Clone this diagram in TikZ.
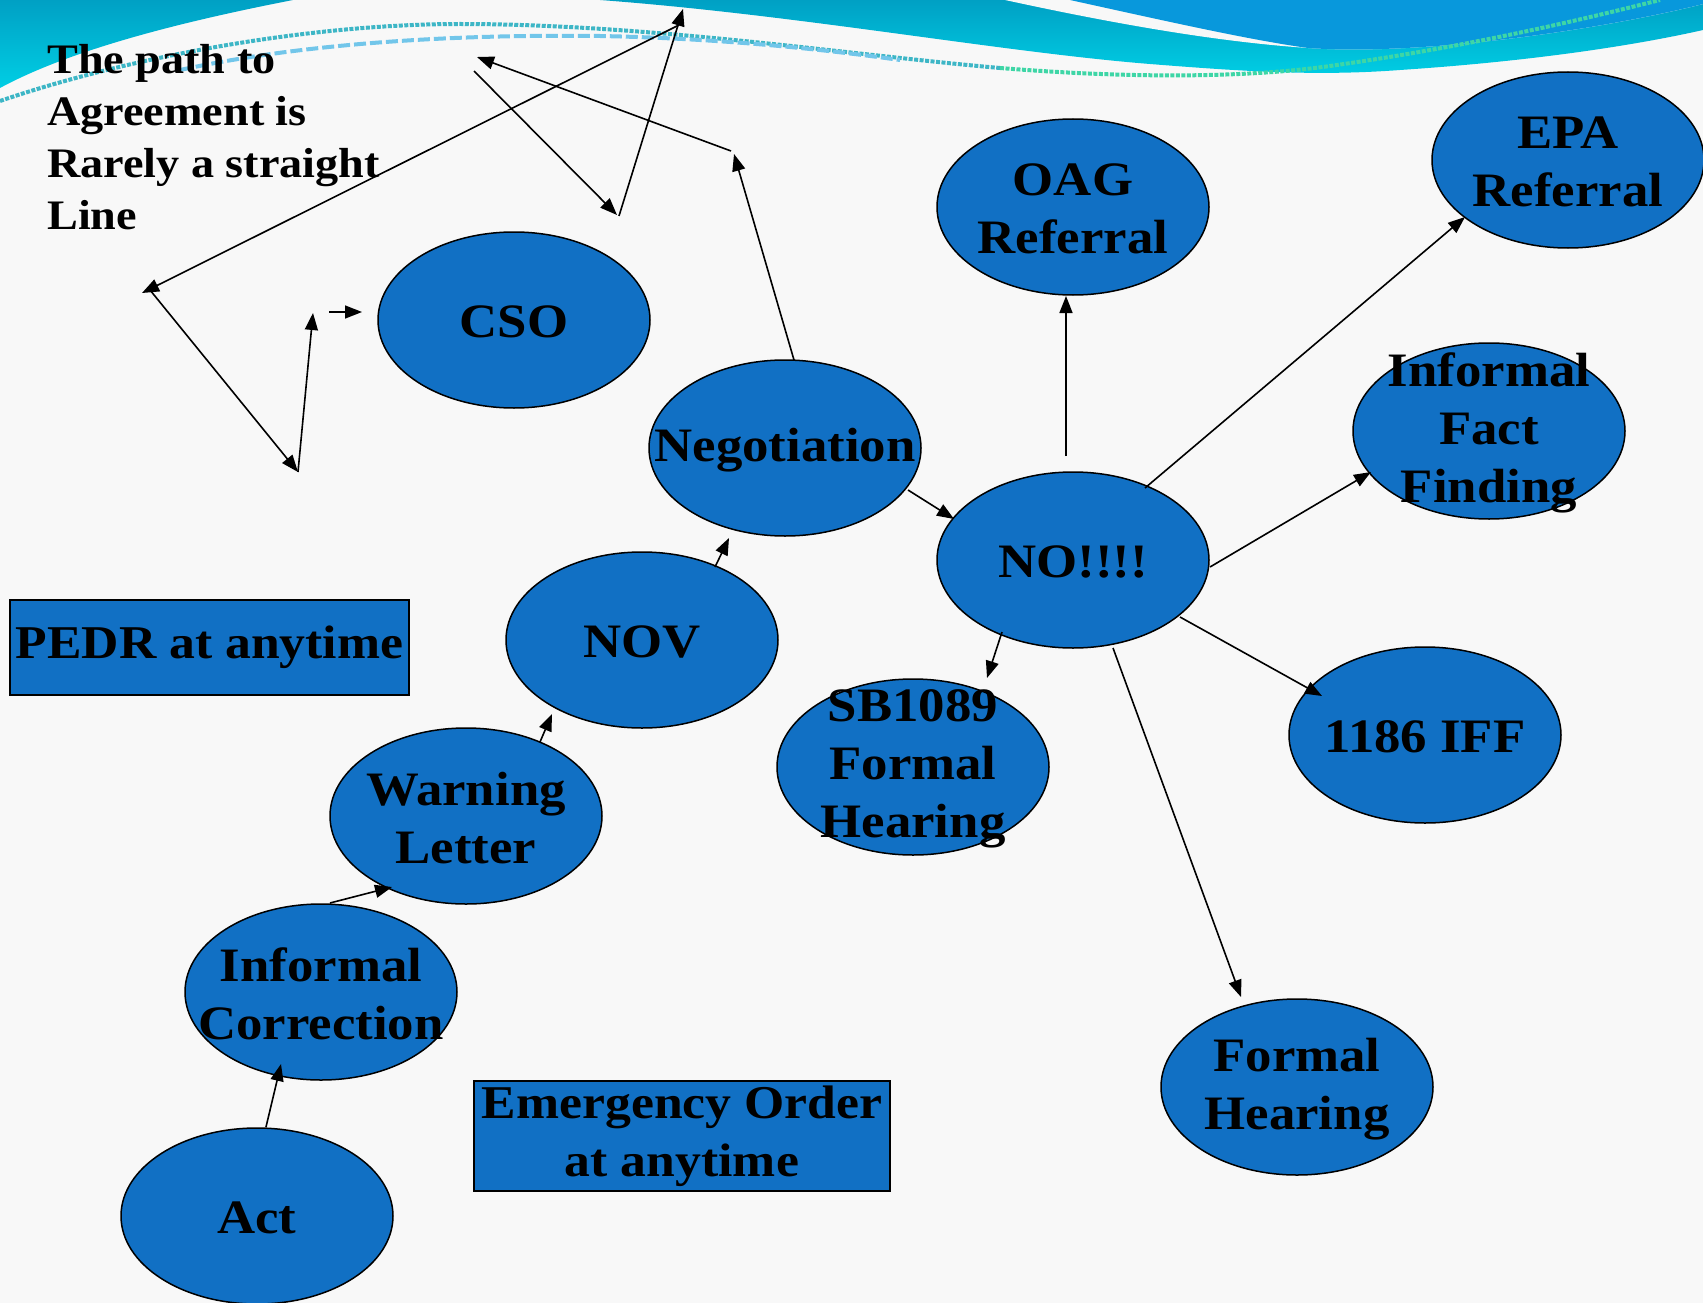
\documentclass[tikz,border=0pt]{standalone}
\usepackage{fontspec}
\setmainfont{Liberation Serif}[FakeStretch=1.1]
\usetikzlibrary{arrows.meta,shapes.geometric}
\definecolor{nodeblue}{HTML}{1170C4}
\definecolor{bgc}{HTML}{F8F8F8}
\definecolor{tealtop}{HTML}{00A0C4}
\definecolor{cyanbot}{HTML}{00CEE4}
\definecolor{ribbonb}{HTML}{0898DC}
\definecolor{wavteal}{HTML}{3DB6C6}
\definecolor{wavblue}{HTML}{72C6EA}
\definecolor{wavgreen}{HTML}{3ED6A6}
\begin{document}
\begin{tikzpicture}[x=1pt,y=-1pt,
  blob/.style={ellipse, draw=black, line width=1.5pt, fill=nodeblue, minimum width=272pt, minimum height=176pt, inner sep=0pt},
  lbl/.style={font=\fontsize{48}{58}\selectfont\bfseries, align=center, inner sep=0pt, yshift=-2pt},
  boxnode/.style={draw=black, line width=2pt, fill=nodeblue, inner sep=0pt, font=\fontsize{47}{58}\selectfont\bfseries, align=center},
  conn/.style={line width=1.6pt, -{Triangle[length=17pt,width=13pt]}},
  wave/.style={line width=4pt}
]
% background
\fill[bgc] (0,0) rectangle (1703,1303);
\useasboundingbox (0,0) rectangle (1703,1303);

% top-left corner ribbon
\shade[top color=tealtop, bottom color=cyanbot] (0,0) -- (293,0) .. controls (180,22) and (70,50) .. (0,88) -- cycle;
% ribbon A
\shade[top color=tealtop, bottom color=cyanbot] (600,0) .. controls (800,15) and (1000,52) .. (1150,64) .. controls (1250,72) and (1320,76) .. (1400,70) .. controls (1550,60) and (1650,42) .. (1703,30) -- (1703,0) -- cycle;
% white wedge
\fill[bgc] (1005,0) .. controls (1120,25) and (1220,42) .. (1308,48) .. controls (1420,56) and (1600,30) .. (1703,4) -- (1703,0) -- cycle;
% ribbon B
\fill[ribbonb] (1070,0) .. controls (1170,22) and (1250,40) .. (1308,48) .. controls (1420,56) and (1600,30) .. (1703,4) -- (1703,0) -- cycle;
% wave lines
\draw[wave, wavteal, dash pattern=on 4pt off 1.5pt] (0,101) .. controls (120,60) and (300,24) .. (460,24) .. controls (650,24) and (850,55) .. (1000,68);
\draw[wave, wavgreen, dash pattern=on 4pt off 1.5pt] (1000,68) .. controls (1150,80) and (1260,76) .. (1330,66) .. controls (1480,45) and (1600,15) .. (1660,0);
\draw[wave, wavblue, dash pattern=on 12pt off 4pt] (180,70) .. controls (300,44) and (450,34) .. (600,36) .. controls (700,38) and (800,46) .. (900,60);

% title
\node[anchor=north west, align=left, inner sep=0pt, font=\fontsize{42}{52}\selectfont\bfseries] (title) at (47,44) {The path to\\Agreement is\\Rarely a straight\\Line};

% ellipses
\node[blob] (cso) at (514,320) {};
\node[blob] (neg) at (785,448) {};
\node[blob] (oag) at (1073,207) {};
\node[blob] (epa) at (1568,160) {};
\node[blob] (iff) at (1489,431) {};
\node[blob] (no) at (1073,560) {};
\node[blob] (nov) at (642,640) {};
\node[blob] (sb) at (913,767) {};
\node[blob] (i1186) at (1425,735) {};
\node[blob] (warn) at (466,816) {};
\node[blob] (icorr) at (321,992) {};
\node[blob] (fh) at (1297,1087) {};
\node[blob] (act) at (257,1216) {};

\node[lbl] at (cso) {CSO};
\node[lbl] at (neg) {Negotiation};
\node[lbl] at (oag) {OAG\\Referral};
\node[lbl] at (epa) {EPA\\Referral};
\node[lbl] at (iff) {Informal\\Fact\\Finding};
\node[lbl] at (no) {NO!!!!};
\node[lbl] at (nov) {NOV};
\node[lbl] at (sb) {SB1089\\Formal\\Hearing};
\node[lbl] at (i1186) {1186 IFF};
\node[lbl] at (warn) {Warning\\Letter};
\node[lbl] at (icorr) {Informal\\Correction};
\node[lbl] at (fh) {Formal\\Hearing};
\node[lbl] at (act) {Act};

% boxes
\node[boxnode, minimum width=399pt, minimum height=95pt] (pedr) at (209.5,647.5) {PEDR at anytime};
\node[boxnode, minimum width=416pt, minimum height=110pt] (emerg) at (682,1136) {Emergency Order\\at anytime};

% connector end points
\coordinate (a1) at (266,1127); \coordinate (a2) at (281,1064);
\coordinate (b1) at (330,903);  \coordinate (b2) at (392,887);
\coordinate (c1) at (540,742);  \coordinate (c2) at (552,714);
\coordinate (d1) at (715,567);  \coordinate (d2) at (729,538);
\coordinate (e1) at (908,490);  \coordinate (e2) at (954,519);
\coordinate (f1) at (794,360);  \coordinate (f2) at (734,154);
\coordinate (g1) at (731,151);  \coordinate (g2) at (477,57);
\coordinate (h1) at (474,71);   \coordinate (h2) at (617,215);
\coordinate (i1) at (619,216);  \coordinate (i2) at (683,9);
\coordinate (j1) at (679,25);   \coordinate (j2) at (142,293);
\coordinate (k1) at (150,290);  \coordinate (k2) at (298,472);
\coordinate (l1) at (298,472);  \coordinate (l2) at (313,313);
\coordinate (m1) at (329,312);  \coordinate (m2) at (362,312);
\coordinate (n1) at (1066,456); \coordinate (n2) at (1066,296);
\coordinate (o1) at (1145,488); \coordinate (o2) at (1465,217);
\coordinate (p1) at (1210,567); \coordinate (p2) at (1371,472);
\coordinate (q1) at (1180,617); \coordinate (q2) at (1322,696);
\coordinate (r1) at (1002,632); \coordinate (r2) at (987,678);
\coordinate (s1) at (1113,648); \coordinate (s2) at (1241,997);

\draw[conn] (a1) -- (a2);
\draw[conn] (b1) -- (b2);
\draw[conn] (c1) -- (c2);
\draw[conn] (d1) -- (d2);
\draw[conn] (e1) -- (e2);
\draw[conn] (f1) -- (f2);
\draw[conn] (g1) -- (g2);
\draw[conn] (h1) -- (h2);
\draw[conn] (i1) -- (i2);
\draw[conn] (j1) -- (j2);
\draw[conn] (k1) -- (k2);
\draw[conn] (l1) -- (l2);
\draw[conn] (m1) -- (m2);
\draw[conn] (n1) -- (n2);
\draw[conn] (o1) -- (o2);
\draw[conn] (p1) -- (p2);
\draw[conn] (q1) -- (q2);
\draw[conn] (r1) -- (r2);
\draw[conn] (s1) -- (s2);
\end{tikzpicture}
\end{document}
